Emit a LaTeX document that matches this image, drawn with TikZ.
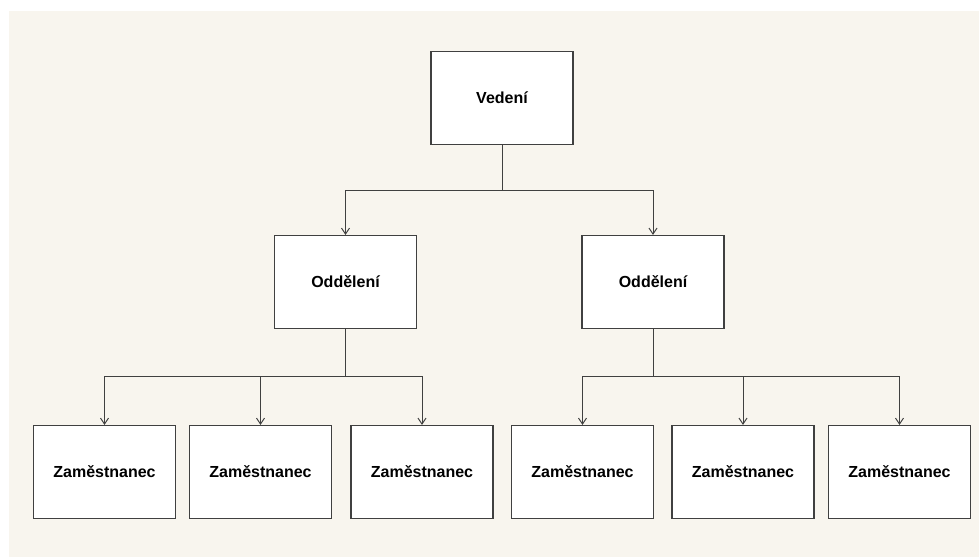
\documentclass[tikz,border=0pt]{standalone}
\usepackage{fontspec}
\setmainfont{Liberation Sans}
\usepackage{tikz}
\usetikzlibrary{arrows.meta}
\definecolor{pozadi}{RGB}{248,245,238}
\definecolor{cara}{RGB}{64,64,64}
\tikzset{
	box/.style={draw=cara,fill=white,line width=1.1pt,minimum width=142pt,minimum height=93pt,inner sep=0pt,font=\fontsize{16}{19}\selectfont\bfseries},
	spoj/.style={draw=cara,line width=1pt},
	sipka/.style={spoj,-{Straight Barb[length=6pt,width=8pt,line width=1pt]}}
}
\begin{document}
\begin{tikzpicture}[x=1pt,y=-1pt]
		\useasboundingbox (0,0) rectangle (979,557);
		\fill[pozadi] (9,11) rectangle (979,557);
		
		\node[box] (vedeni) at (502,98){Vedení};
		
		\node[box] (odd1) at (345.5,282){Oddělení};
		\node[box] (odd2) at (653,282){Oddělení};
		
		\node[box] (zam1) at (104.5,472){Zaměstnanec};
		\node[box] (zam2) at (260.5,472){Zaměstnanec};
		\node[box] (zam3) at (422,472){Zaměstnanec};
		\node[box] (zam4) at (582.5,472){Zaměstnanec};
		\node[box] (zam5) at (743,472){Zaměstnanec};
		\node[box] (zam6) at (899.5,472){Zaměstnanec};
		
		\coordinate (uzel0) at (502,190);
		\coordinate (uzel1) at (345.5,376);
		\coordinate (uzel2) at (653,376);
		
		\draw[spoj] (vedeni.south) -- (uzel0);
		\draw[sipka] (uzel0) -| (odd1.north);
		\draw[sipka] (uzel0) -| (odd2.north);
		
		\draw[spoj] (odd1.south) -- (uzel1);
		\foreach \z in {zam1,zam2,zam3}
			\draw[sipka] (uzel1) -| (\z.north);
		
		\draw[spoj] (odd2.south) -- (uzel2);
		\foreach \z in {zam4,zam5,zam6}
			\draw[sipka] (uzel2) -| (\z.north);
	\end{tikzpicture}
\end{document}
